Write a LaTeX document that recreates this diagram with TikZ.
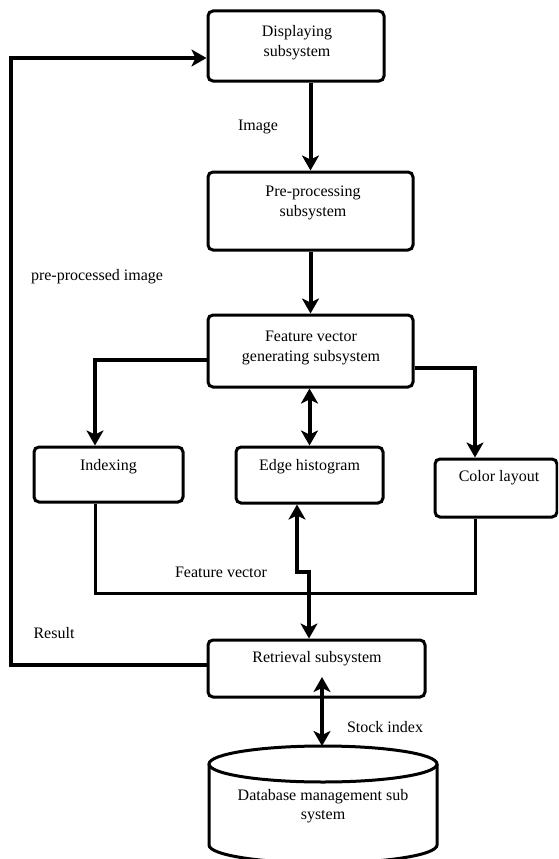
\documentclass[tikz,border=0pt]{standalone}
\usepackage{fontspec}
\setmainfont{Liberation Serif}
\usetikzlibrary{arrows.meta,positioning}

\tikzset{
  box/.style={draw,line width=3pt,rounded corners=5pt,inner sep=0pt},
  txt/.style={font=\fontsize{16}{19.5}\selectfont,align=center,inner sep=0pt},
  wire/.style={line width=3pt},
  arr/.style={line width=4pt,-{Stealth[length=15pt,width=17pt,inset=4pt]}},
  darr/.style={line width=4pt,{Stealth[length=15pt,width=17pt,inset=4pt]}-{Stealth[length=15pt,width=17pt,inset=4pt]}}
}

\begin{document}
\begin{tikzpicture}[x=1pt,y=-1pt]
    \clip (0,0) rectangle (558,859);

    % boxes
    \node[box,minimum width=176pt,minimum height=70pt] (disp) at (296,46) {};
    \node[box,minimum width=205pt,minimum height=78pt] (prep) at (310.5,211) {};
    \node[box,minimum width=205pt,minimum height=72pt] (feat) at (310.5,351) {};
    \node[box,minimum width=149pt,minimum height=55pt] (idx) at (108.5,474.5) {};
    \node[box,minimum width=147pt,minimum height=56pt] (edge) at (309.5,475) {};
    \node[box,minimum width=122pt,minimum height=58pt] (color) at (496,488) {};
    \node[box,minimum width=217pt,minimum height=57pt] (retr) at (316.5,668.5) {};

    \node[txt] (disptxt) at (297,42.5) {Displaying\\subsystem};
    \node[txt] (preptxt) at (313,203) {Pre-processing\\subsystem};
    \node[txt] (feattxt) at (311,348) {Feature vector\\generating subsystem};
    \node[txt] (idxtxt) at (108.5,467) {Indexing};
    \node[txt] (edgetxt) at (309.5,467) {Edge histogram};
    \node[txt] (colortxt) at (499,478) {Color layout};
    \node[txt] (retrtxt) at (317,659) {Retrieval subsystem};

    % database cylinder
    \draw[line width=3pt] (323,764) ellipse [x radius=114pt,y radius=18pt];
    \draw[line width=3pt] (209,764) -- (209,845)
        arc[start angle=180,end angle=360,x radius=114pt,y radius=18pt] -- (437,764);
    \coordinate (dbtop) at (322,746);
    \node[txt] (dbtxt) at (323,806) {Database management sub\\system};

    % connectors
    \coordinate (fbcorner) at (11,58);
    \coordinate (bus) at (309,593);
    \coordinate (jog) at (309,572);
    \coordinate (dbport) at (322,677);

    \draw[arr] (prep.north|-disp.south) -- (prep.north);
    \draw[arr] (prep.south) -- (feat.north);
    \draw[arr] ([yshift=-9pt]feat.west) -| ([xshift=-13.5pt]idx.north);
    \draw[arr] ([yshift=-17pt]feat.east) -| ([xshift=-21pt]color.north);
    \draw[darr] (edge.north|-feat.south) -- (edge.north);
    \draw[wire] ([xshift=-13.5pt]idx.south) |- (bus) -| ([xshift=-21pt]color.south);
    \draw[arr] (bus) -- (bus|-retr.north);
    \draw[arr] (bus) -- (jog) -| ([xshift=-12.5pt]edge.south);
    \draw[arr] ([yshift=3.5pt]retr.west) -| (fbcorner) -- ([yshift=-12pt]disp.west);
    \draw[darr] (dbport) -- (dbtop);

    % labels
    \node[txt] (imglbl) at (258,127) {Image};
    \node[txt] (prelbl) at (97,277) {pre-processed image};
    \node[txt] (fvlbl) at (221,572) {Feature vector};
    \node[txt] (reslbl) at (54,633) {Result};
    \node[txt] (stocklbl) at (385,727) {Stock index};

\end{tikzpicture}
\end{document}
